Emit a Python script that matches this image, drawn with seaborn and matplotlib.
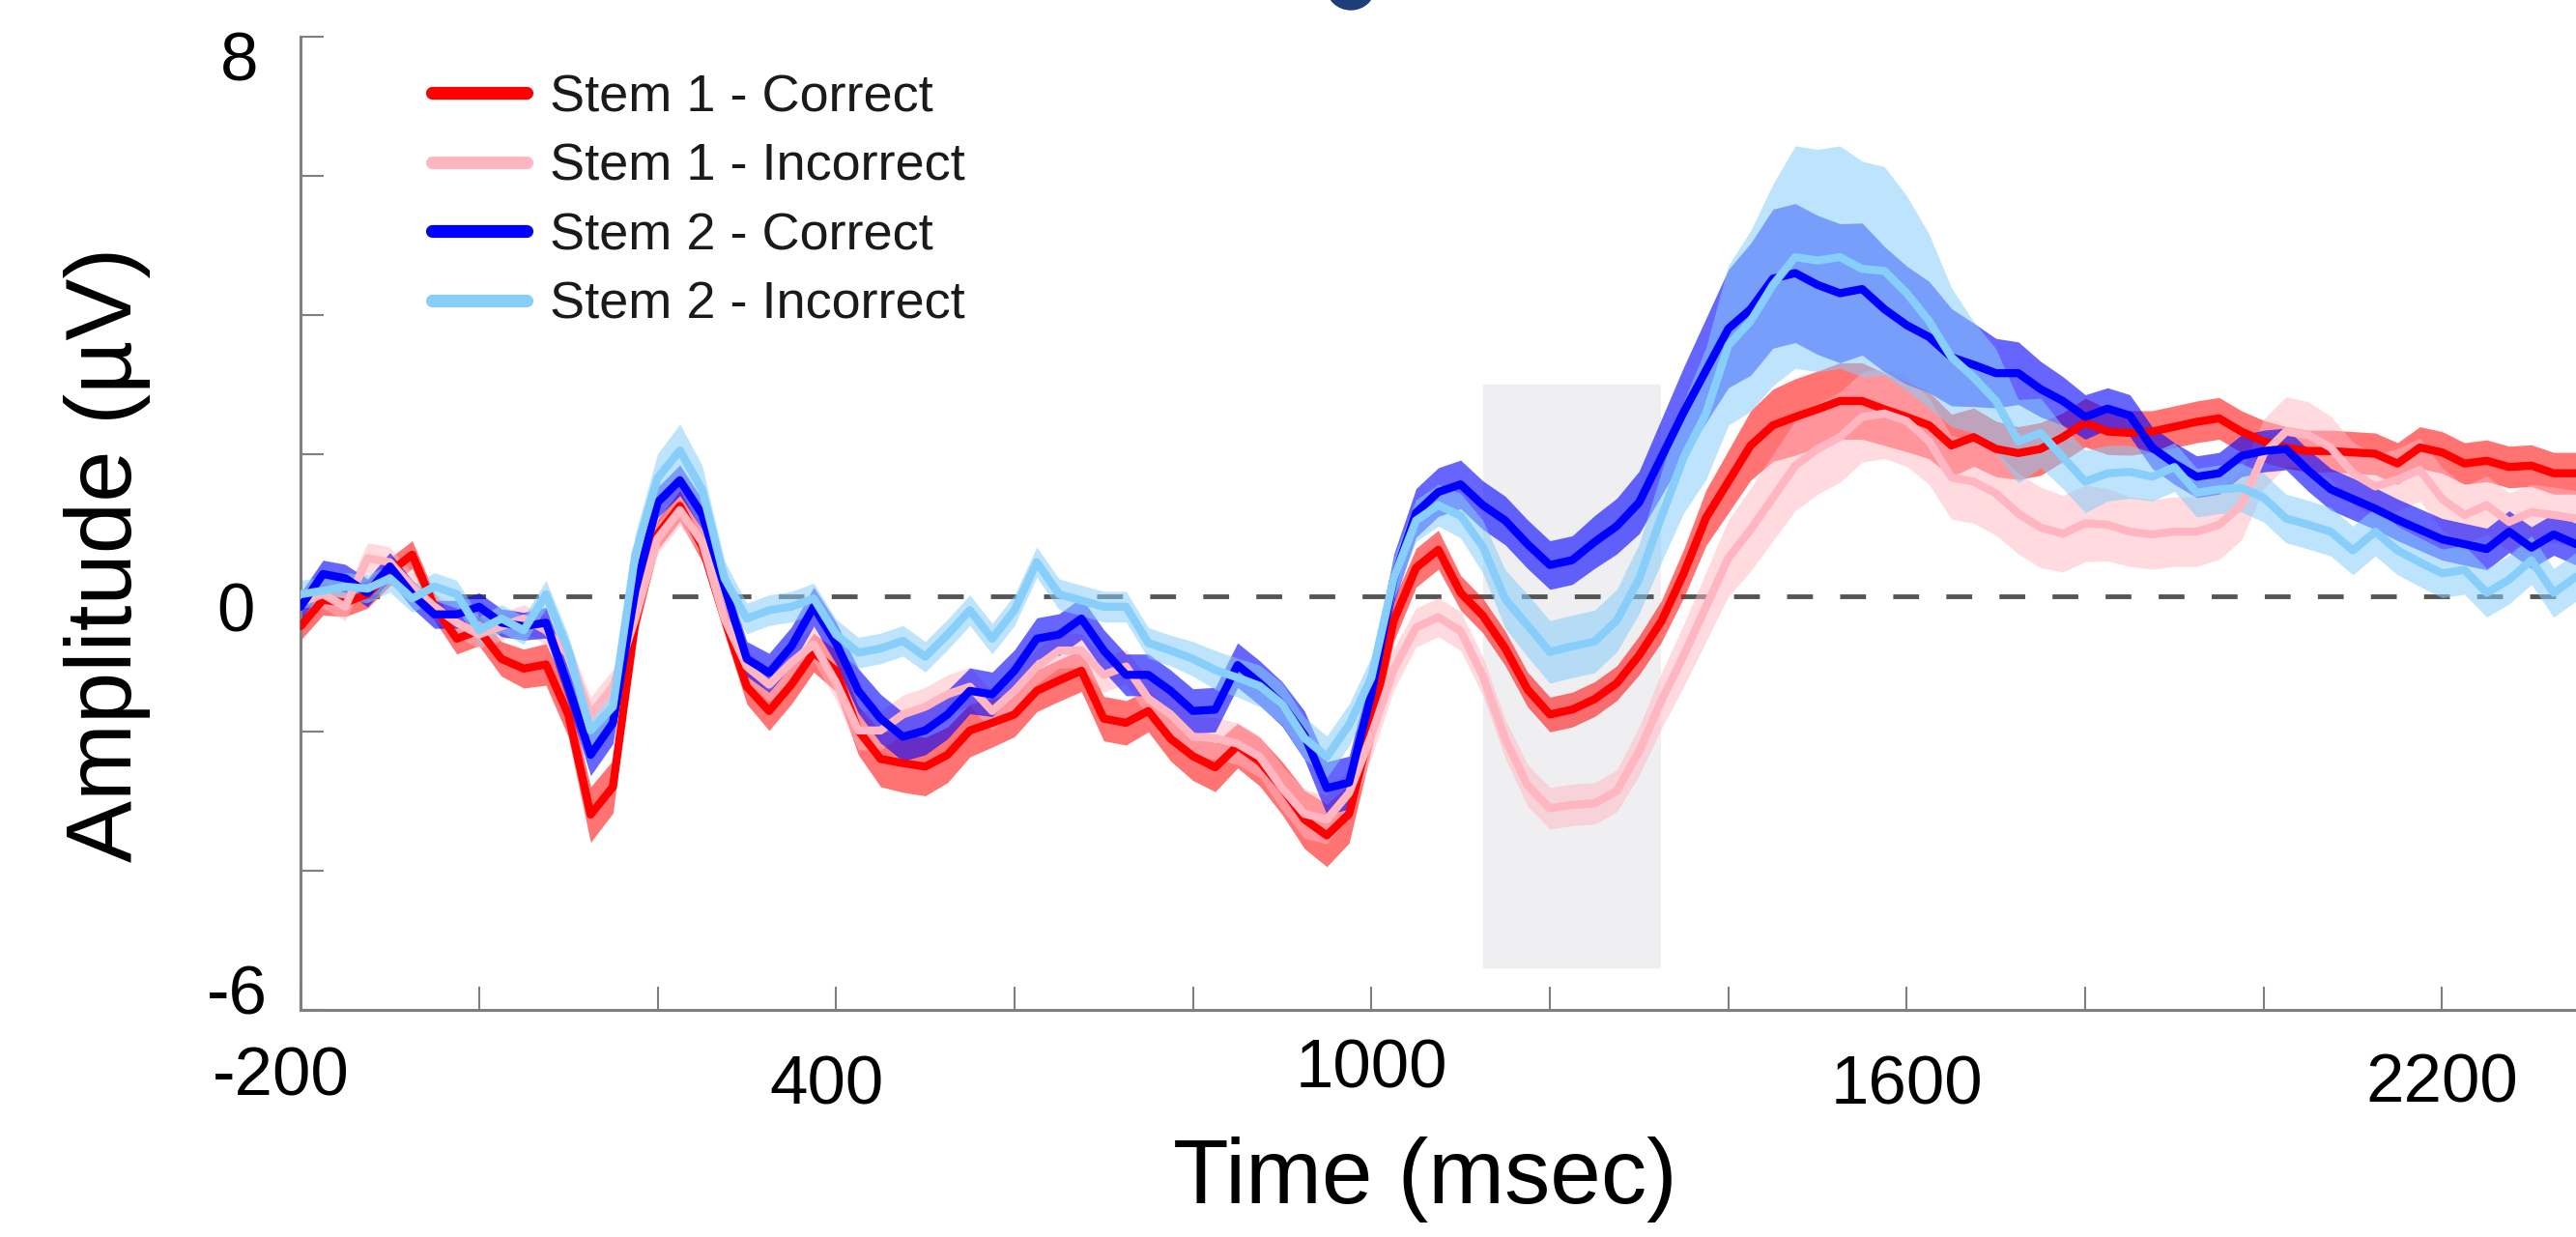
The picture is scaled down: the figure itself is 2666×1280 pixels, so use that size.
import numpy as np
import pandas as pd
import matplotlib.pyplot as plt
import seaborn as sns
from matplotlib.lines import Line2D
from matplotlib.patches import Rectangle, Ellipse
from matplotlib.transforms import ScaledTranslation

sns.set_style("white")
plt.rcParams["font.family"] = ["Liberation Sans", "DejaVu Sans"]
plt.rcParams["text.color"] = "black"
plt.rcParams["axes.labelcolor"] = "black"

# time axis (ms), one sample every 25 ms
time_ms = list(range(-200, 2351, 25))

conditions = ["Stem 1 - Correct", "Stem 1 - Incorrect", "Stem 2 - Correct", "Stem 2 - Incorrect"]
colors = ["#ff0000", "#ffb6c1", "#0000ff", "#87cefa"]
band_alpha = [0.55, 0.5, 0.6, 0.55]

# mean amplitude (µV)
stem1_correct = [
    -0.48, -0.10, -0.14, -0.02, 0.30, 0.55, -0.20, -0.66, -0.54, -0.95,
    -1.09, -1.03, -1.75, -3.19, -2.79, -0.43, 0.84, 1.25, 0.67, -0.37,
    -1.35, -1.70, -1.32, -0.86, -1.12, -1.98, -2.39, -2.45, -2.50, -2.33,
    -1.98, -1.87, -1.75, -1.41, -1.26, -1.12, -1.81, -1.87, -1.70, -2.10,
    -2.35, -2.51, -2.20, -2.43, -2.81, -3.26, -3.49, -3.18, -1.90, -0.40,
    0.36, 0.62, 0.00, -0.33, -0.80, -1.39, -1.75, -1.68, -1.53, -1.30,
    -0.90, -0.41, 0.28, 1.08, 1.60, 2.12, 2.41, 2.53, 2.64, 2.76,
    2.76, 2.64, 2.53, 2.41, 2.12, 2.24, 2.07, 2.01, 2.07, 2.24,
    2.45, 2.32, 2.30, 2.32, 2.39, 2.46, 2.51, 2.32, 2.18, 2.09,
    2.04, 2.04, 2.02, 2.00, 1.86, 2.09, 2.02, 1.86, 1.90, 1.81,
    1.83, 1.72, 1.72,
]
stem1_incorrect = [
    -0.14, -0.02, -0.20, 0.50, 0.44, 0.09, -0.20, -0.43, -0.60, -0.48,
    -0.37, -0.54, -0.89, -1.75, -1.35, -0.37, 0.78, 1.19, 0.73, -0.37,
    -1.06, -1.32, -1.00, -0.74, -1.29, -1.98, -1.98, -1.75, -1.64, -1.46,
    -1.35, -1.70, -1.41, -1.06, -0.83, -0.83, -1.18, -1.06, -1.52, -1.75,
    -2.07, -2.09, -2.17, -2.36, -2.81, -3.18, -3.26, -2.88, -2.05, -1.10,
    -0.50, -0.35, -0.55, -1.20, -2.10, -2.77, -3.10, -3.05, -3.03, -2.85,
    -2.28, -1.55, -0.90, -0.20, 0.50, 0.91, 1.37, 1.83, 2.07, 2.24,
    2.53, 2.58, 2.47, 2.18, 1.66, 1.60, 1.43, 1.14, 0.94, 0.85,
    1.00, 0.98, 0.88, 0.84, 0.88, 0.88, 0.98, 1.26, 2.00, 2.32,
    2.27, 2.09, 1.72, 1.53, 1.63, 1.77, 1.35, 1.12, 1.26, 1.02,
    1.16, 1.12, 1.07,
]
stem2_correct = [
    -0.20, 0.27, 0.21, 0.00, 0.38, -0.02, -0.31, -0.31, -0.20, -0.43,
    -0.48, -0.43, -1.35, -2.33, -1.87, 0.03, 1.30, 1.62, 1.13, 0.09,
    -0.95, -1.15, -0.77, -0.20, -0.72, -1.41, -1.81, -2.07, -1.98, -1.75,
    -1.41, -1.46, -1.12, -0.66, -0.60, -0.37, -0.83, -1.18, -1.18, -1.41,
    -1.70, -1.68, -1.04, -1.30, -1.60, -2.05, -2.81, -2.73, -1.45, 0.20,
    1.15, 1.45, 1.56, 1.26, 1.04, 0.70, 0.40, 0.47, 0.73, 0.96,
    1.30, 1.95, 2.60, 3.20, 3.80, 4.08, 4.52, 4.60, 4.43, 4.31,
    4.37, 4.08, 3.85, 3.68, 3.39, 3.28, 3.16, 3.16, 2.93, 2.76,
    2.53, 2.65, 2.55, 2.09, 1.86, 1.67, 1.72, 1.97, 2.04, 2.07,
    1.76, 1.49, 1.35, 1.21, 1.05, 0.91, 0.77, 0.70, 0.63, 0.88,
    0.65, 0.84, 0.70,
]
stem2_incorrect = [
    -0.02, 0.03, 0.09, 0.06, 0.21, -0.08, 0.09, -0.02, -0.54, -0.37,
    -0.54, -0.02, -0.83, -1.98, -1.64, 0.55, 1.65, 2.05, 1.48, 0.21,
    -0.37, -0.25, -0.20, -0.08, -0.60, -0.86, -0.80, -0.69, -0.92, -0.60,
    -0.25, -0.66, -0.25, 0.44, -0.02, -0.11, -0.20, -0.20, -0.72, -0.83,
    -0.95, -1.11, -1.22, -1.34, -1.60, -2.09, -2.36, -1.90, -1.22, 0.21,
    1.04, 1.26, 1.11, 0.66, -0.09, -0.47, -0.85, -0.77, -0.70, -0.40,
    0.20, 1.09, 1.95, 2.58, 3.56, 3.91, 4.43, 4.83, 4.78, 4.83,
    4.66, 4.63, 4.31, 3.91, 3.39, 3.10, 2.76, 2.18, 2.30, 1.95,
    1.60, 1.72, 1.74, 1.67, 1.81, 1.44, 1.49, 1.51, 1.37, 1.07,
    0.98, 0.88, 0.61, 0.88, 0.61, 0.44, 0.28, 0.33, 0.00, 0.19,
    0.47, 0.00, 0.23,
]

# half-width of the shaded error band
stem1_correct_se = [
    0.20, 0.22, 0.20, 0.20, 0.20, 0.20, 0.20, 0.22, 0.22, 0.25,
    0.28, 0.30, 0.32, 0.40, 0.38, 0.25, 0.22, 0.22, 0.22, 0.22,
    0.25, 0.28, 0.28, 0.28, 0.30, 0.35, 0.40, 0.42, 0.42, 0.40,
    0.38, 0.35, 0.32, 0.30, 0.30, 0.30, 0.32, 0.32, 0.30, 0.32,
    0.35, 0.35, 0.32, 0.35, 0.38, 0.42, 0.45, 0.42, 0.35, 0.30,
    0.28, 0.28, 0.25, 0.25, 0.25, 0.25, 0.25, 0.25, 0.25, 0.25,
    0.28, 0.30, 0.35, 0.40, 0.45, 0.50, 0.52, 0.55, 0.55, 0.55,
    0.55, 0.52, 0.50, 0.48, 0.45, 0.42, 0.40, 0.38, 0.38, 0.35,
    0.35, 0.33, 0.32, 0.30, 0.30, 0.30, 0.30, 0.30, 0.30, 0.30,
    0.30, 0.30, 0.30, 0.30, 0.30, 0.30, 0.30, 0.30, 0.30, 0.30,
    0.30, 0.30, 0.30,
]
stem1_incorrect_se = [
    0.18, 0.20, 0.20, 0.22, 0.22, 0.20, 0.20, 0.20, 0.20, 0.20,
    0.20, 0.20, 0.22, 0.25, 0.25, 0.22, 0.22, 0.22, 0.20, 0.20,
    0.22, 0.25, 0.25, 0.25, 0.25, 0.28, 0.28, 0.28, 0.28, 0.28,
    0.28, 0.28, 0.28, 0.25, 0.25, 0.25, 0.25, 0.25, 0.28, 0.30,
    0.30, 0.30, 0.30, 0.30, 0.32, 0.35, 0.35, 0.35, 0.32, 0.30,
    0.28, 0.28, 0.28, 0.28, 0.28, 0.30, 0.30, 0.30, 0.30, 0.30,
    0.35, 0.40, 0.45, 0.50, 0.55, 0.60, 0.62, 0.65, 0.65, 0.65,
    0.65, 0.65, 0.65, 0.62, 0.60, 0.60, 0.60, 0.58, 0.58, 0.55,
    0.55, 0.52, 0.50, 0.50, 0.50, 0.50, 0.50, 0.50, 0.50, 0.50,
    0.48, 0.45, 0.45, 0.45, 0.45, 0.45, 0.45, 0.42, 0.42, 0.42,
    0.40, 0.40, 0.40,
]
stem2_correct_se = [
    0.20, 0.20, 0.20, 0.20, 0.20, 0.20, 0.20, 0.20, 0.20, 0.20,
    0.20, 0.22, 0.25, 0.30, 0.30, 0.25, 0.22, 0.22, 0.22, 0.22,
    0.25, 0.28, 0.28, 0.28, 0.30, 0.32, 0.35, 0.35, 0.35, 0.35,
    0.33, 0.32, 0.30, 0.30, 0.30, 0.30, 0.30, 0.30, 0.30, 0.30,
    0.32, 0.32, 0.32, 0.32, 0.32, 0.35, 0.38, 0.38, 0.35, 0.35,
    0.35, 0.35, 0.35, 0.35, 0.35, 0.35, 0.35, 0.35, 0.38, 0.40,
    0.45, 0.55, 0.65, 0.75, 0.85, 0.95, 1.00, 1.00, 1.00, 1.00,
    0.95, 0.90, 0.85, 0.80, 0.70, 0.60, 0.50, 0.45, 0.40, 0.35,
    0.32, 0.30, 0.30, 0.30, 0.30, 0.30, 0.30, 0.30, 0.30, 0.30,
    0.30, 0.30, 0.30, 0.30, 0.30, 0.30, 0.30, 0.30, 0.30, 0.30,
    0.30, 0.30, 0.30,
]
stem2_incorrect_se = [
    0.20, 0.20, 0.20, 0.20, 0.20, 0.20, 0.20, 0.20, 0.20, 0.20,
    0.20, 0.20, 0.22, 0.28, 0.28, 0.30, 0.35, 0.38, 0.35, 0.25,
    0.22, 0.22, 0.22, 0.22, 0.22, 0.22, 0.22, 0.22, 0.22, 0.22,
    0.22, 0.22, 0.22, 0.22, 0.22, 0.22, 0.22, 0.22, 0.22, 0.22,
    0.25, 0.28, 0.28, 0.30, 0.30, 0.30, 0.30, 0.30, 0.30, 0.30,
    0.30, 0.30, 0.32, 0.38, 0.42, 0.45, 0.45, 0.45, 0.45, 0.45,
    0.50, 0.65, 0.80, 0.95, 1.15, 1.30, 1.45, 1.60, 1.60, 1.60,
    1.55, 1.50, 1.40, 1.25, 1.00, 0.80, 0.75, 0.60, 0.50, 0.45,
    0.45, 0.40, 0.38, 0.35, 0.35, 0.35, 0.35, 0.35, 0.35, 0.35,
    0.35, 0.35, 0.35, 0.35, 0.35, 0.35, 0.35, 0.35, 0.35, 0.35,
    0.35, 0.35, 0.35,
]

means = [stem1_correct, stem1_incorrect, stem2_correct, stem2_incorrect]
errors = [stem1_correct_se, stem1_incorrect_se, stem2_correct_se, stem2_incorrect_se]

# analysis window (grey box)
window_ms = (1125, 1325)
window_uv = (-5.4, 3.0)
baseline_uv = -0.05

x_ticks = list(range(-200, 2351, 200))
x_labels = ["-200", "", "", "400", "", "", "1000", "", "", "1600", "", "", "2200"]
y_ticks = [-6, -4, -2, 0, 2, 4, 6, 8]
y_labels = ["-6", "", "", "0", "", "", "", "8"]

rows = []
for cond, vals in zip(conditions, means):
    for t, v in zip(time_ms, vals):
        rows.append({"time": t, "amplitude": v, "condition": cond})
df = pd.DataFrame(rows)

fig = plt.figure(figsize=(26.66, 12.8), dpi=100)
ax = fig.add_axes([0.1167, 0.1836, 0.8833, 0.7867])

ax.add_patch(Rectangle((window_ms[0], window_uv[0]), window_ms[1] - window_ms[0],
                       window_uv[1] - window_uv[0], color="#efeff1", lw=0, zorder=0))
ax.axhline(baseline_uv, color="#555555", lw=3.5, dashes=(5.5, 5.8), zorder=1)

for cond, col, a, vals, se in zip(conditions, colors, band_alpha, means, errors):
    m = np.array(vals)
    s = np.array(se)
    ax.fill_between(time_ms, m - s, m + s, color=col, alpha=a, lw=0, zorder=2)

sns.lineplot(data=df, x="time", y="amplitude", hue="condition", hue_order=conditions,
             palette=colors, linewidth=6, errorbar=None, legend=False, ax=ax, zorder=3)

ax.set_xlim(-200, 2350)
ax.set_ylim(-6, 8)
ax.set_xticks(x_ticks)
ax.set_xticklabels(x_labels)
ax.set_yticks(y_ticks)
ax.set_yticklabels(y_labels)
ax.tick_params(direction="in", length=17, width=1.5, color="#7f7f7f", labelsize=51,
               labelcolor="black", bottom=True, left=True)
ax.tick_params(axis="x", pad=30)
ax.tick_params(axis="y", pad=28)
for side in ["top", "right"]:
    ax.spines[side].set_visible(False)
for side in ["left", "bottom"]:
    ax.spines[side].set_color("#7f7f7f")
    ax.spines[side].set_linewidth(2.2)

ax.set_xlabel("Time (msec)", fontsize=68, color="black")
ax.set_ylabel("Amplitude (µV)", fontsize=69, color="black")
ax.xaxis.set_label_coords(0.494, -0.13)
ax.yaxis.set_label_coords(-0.066, 0.468)

# hand-placed tick labels in the source are a bit uneven
x_shift = [(-20, 4), (0, 0), (0, 0), (-10, -5), (0, 0), (0, 0), (0, 12),
           (0, 0), (0, 0), (0, -5), (0, 0), (0, 0), (0, -3)]
for lbl, (dx, dy) in zip(ax.get_xticklabels(), x_shift):
    lbl.set_transform(lbl.get_transform() + ScaledTranslation(dx / 100, dy / 100, fig.dpi_scale_trans))
y_shift = [(5, 21), (0, 0), (0, 0), (-9, -15), (0, 0), (0, 0), (0, 0), (-5, -20)]
for lbl, (dx, dy) in zip(ax.get_yticklabels(), y_shift):
    lbl.set_transform(lbl.get_transform() + ScaledTranslation(dx / 100, dy / 100, fig.dpi_scale_trans))

handles = [Line2D([0], [0], color=c, lw=9.5) for c in colors]
ax.legend(handles, conditions, loc="upper left", bbox_to_anchor=(447 / 2666, 1 - 76 / 1280),
          bbox_transform=fig.transFigure, frameon=False, fontsize=39, handlelength=1.8,
          handletextpad=0.45, labelspacing=0.4, borderpad=0, borderaxespad=0,
          labelcolor="#1a1a1a")

# edge of a cropped graphic above the panel
fig.add_artist(Ellipse((1398 / 2666, 1 + 14 / 1280), 50 / 2666, 48 / 1280,
                       transform=fig.transFigure, color="#1f3d7a"))

fig.savefig("out.png", dpi=100)
